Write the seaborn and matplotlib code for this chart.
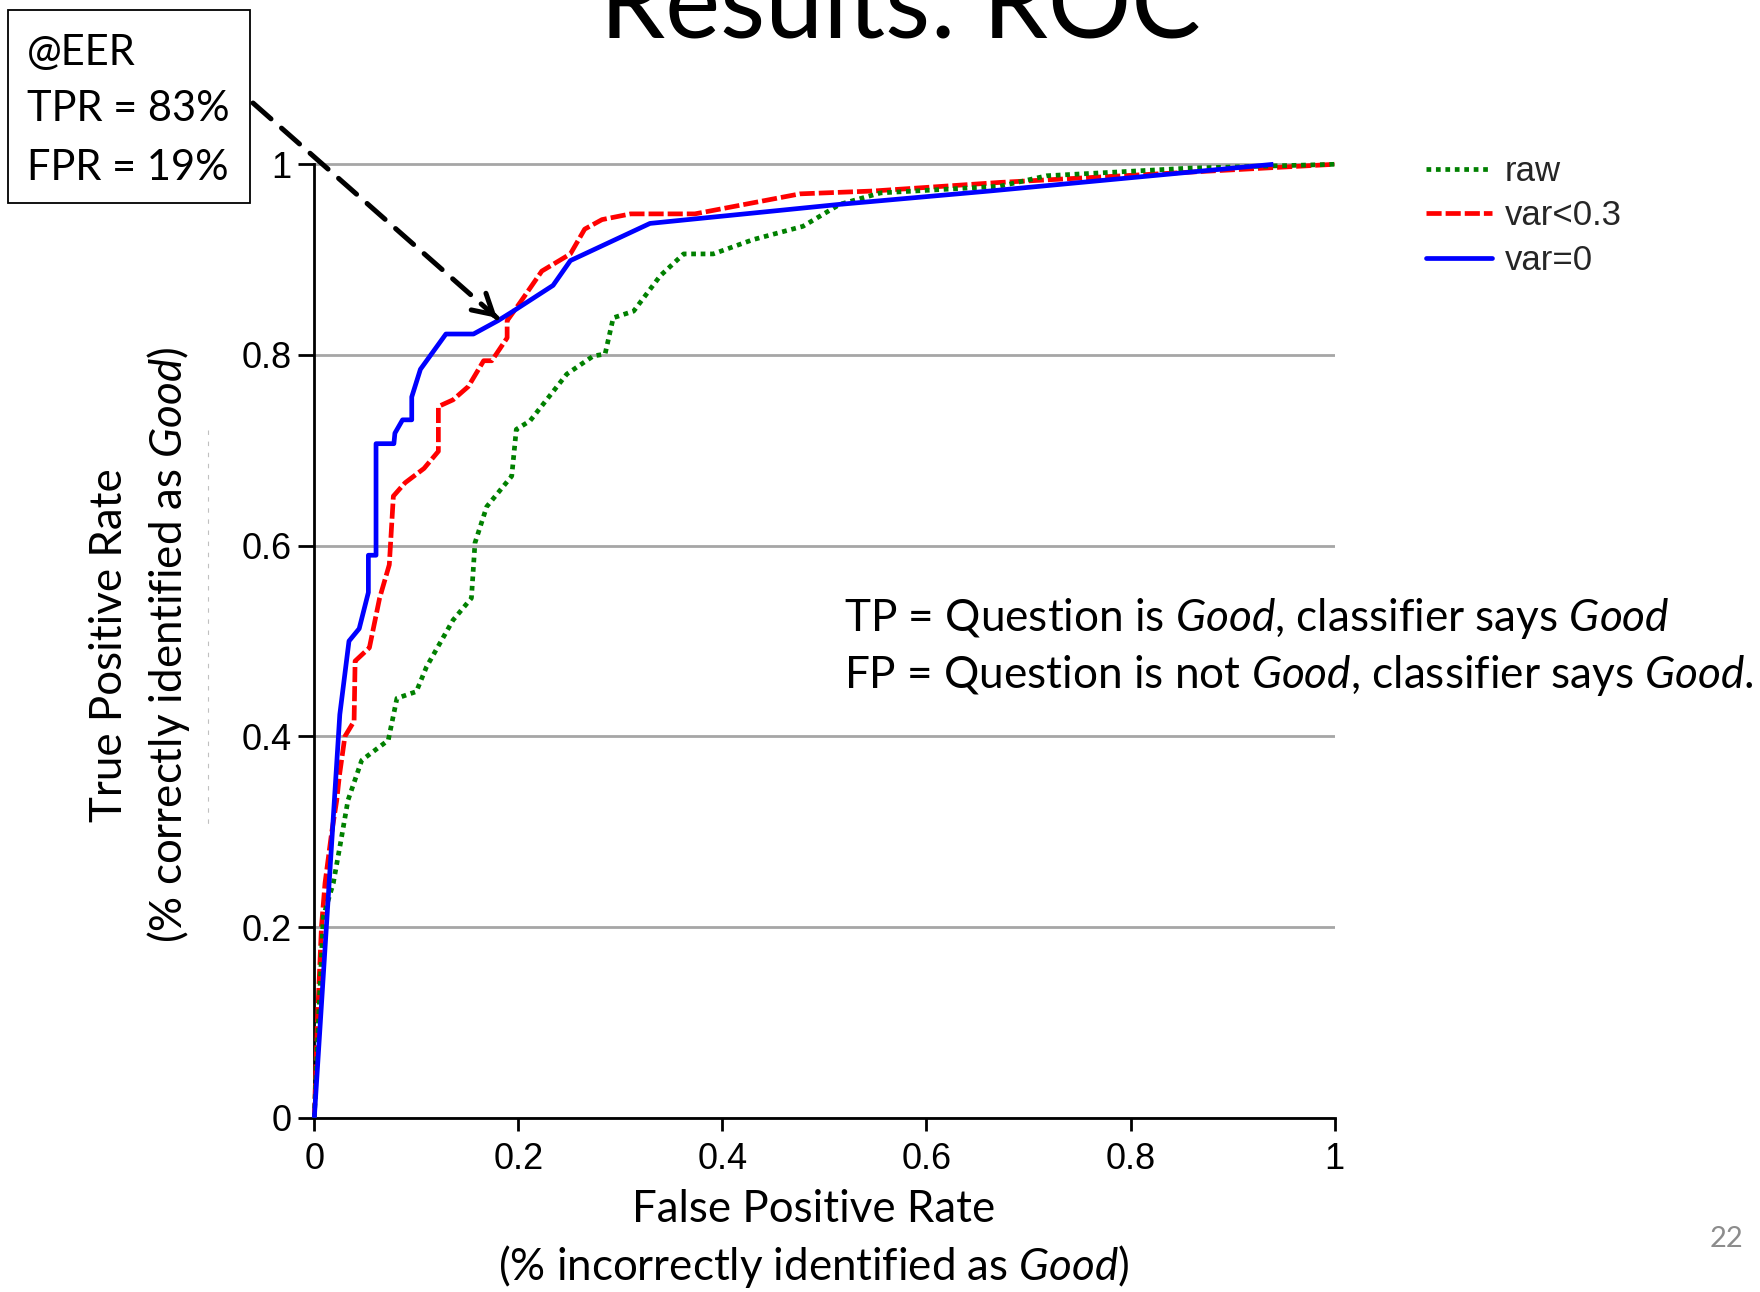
import numpy as np
import pandas as pd
import matplotlib
matplotlib.use("Agg")
import matplotlib.pyplot as plt
import seaborn as sns
from matplotlib.lines import Line2D
from matplotlib.patches import Rectangle

# ---------------- data ----------------
series_names = ["raw", "var<0.3", "var=0"]

raw_fpr = [0.0, 0.004, 0.0088, 0.0186, 0.026, 0.033, 0.0465, 0.0725, 0.081, 0.100,
           0.110, 0.136, 0.154, 0.1575, 0.169, 0.1935, 0.198, 0.2115, 0.2475, 0.2735,
           0.285, 0.293, 0.313, 0.339, 0.362, 0.391, 0.430, 0.479, 0.515, 0.555,
           0.672, 0.718, 0.858, 1.0]
raw_tpr = [0.0, 0.10, 0.211, 0.246, 0.29, 0.333, 0.375, 0.396, 0.440, 0.447,
           0.473, 0.522, 0.545, 0.603, 0.641, 0.673, 0.722, 0.731, 0.780, 0.799,
           0.801, 0.839, 0.846, 0.883, 0.906, 0.906, 0.921, 0.935, 0.958, 0.970,
           0.977, 0.988, 0.996, 1.0]

var03_fpr = [0.0, 0.003, 0.007, 0.0105, 0.017, 0.022, 0.0245, 0.030, 0.039, 0.040,
             0.054, 0.064, 0.0735, 0.0775, 0.089, 0.1075, 0.1216, 0.1216, 0.136, 0.151,
             0.166, 0.174, 0.189, 0.189, 0.2017, 0.223, 0.251, 0.265, 0.282, 0.31,
             0.373, 0.476, 0.548, 0.672, 1.0]
var03_tpr = [0.0, 0.10, 0.20, 0.246, 0.299, 0.333, 0.358, 0.400, 0.416, 0.479,
             0.493, 0.545, 0.580, 0.652, 0.666, 0.681, 0.699, 0.746, 0.753, 0.767,
             0.794, 0.794, 0.818, 0.836, 0.855, 0.888, 0.906, 0.932, 0.942, 0.948,
             0.948, 0.969, 0.972, 0.981, 1.0]

var0_fpr = [0.0, 0.025, 0.034, 0.044, 0.053, 0.053, 0.0605, 0.0605, 0.078, 0.079,
            0.0865, 0.0955, 0.0955, 0.104, 0.129, 0.156, 0.180, 0.195, 0.234, 0.251,
            0.329, 0.515, 0.662, 0.940]
var0_tpr = [0.0, 0.423, 0.500, 0.513, 0.551, 0.590, 0.590, 0.707, 0.707, 0.718,
            0.732, 0.732, 0.756, 0.785, 0.822, 0.822, 0.836, 0.846, 0.873, 0.899,
            0.938, 0.958, 0.972, 1.0]

tick_values = [0, 0.2, 0.4, 0.6, 0.8, 1]
tick_labels = ["0", "0.2", "0.4", "0.6", "0.8", "1"]

eer_lines = ["@EER", "TPR = 83%", "FPR = 19%"]
eer_arrow_tip = (0.179, 0.839)

title_text = "Results: ROC"
note_lines = ["TP = Question is $\\mathit{Good}$, classifier says $\\mathit{Good}$",
              "FP = Question is not $\\mathit{Good}$, classifier says $\\mathit{Good}$."]
ylabel_lines = ["True Positive Rate", "(% correctly identified as $\\mathit{Good}$)"]
xlabel_lines = ["False Positive Rate", "(% incorrectly identified as $\\mathit{Good}$)"]
page_number = "22"

# ---------------- style ----------------
sns.set_theme(style="white")
plt.rcParams["font.family"] = ["Liberation Sans", "DejaVu Sans"]
plt.rcParams["mathtext.fontset"] = "custom"
plt.rcParams["mathtext.rm"] = "Lato"
plt.rcParams["mathtext.it"] = "Lato:italic"
plt.rcParams["mathtext.bf"] = "Lato:bold"

W, H = 1760, 1292
fig = plt.figure(figsize=(W / 100, H / 100), dpi=100)
fig.patch.set_facecolor("white")


def fx(x):
    return x / W


def fy(y):
    return 1 - y / H


YTOP = 1.003
ax_left, ax_right, ax_bottom, ax_top1 = 314.3, 1334.6, 1117.8, 164.3
ax_h = (ax_bottom - ax_top1) * YTOP
ax = fig.add_axes([fx(ax_left), fy(ax_bottom), (ax_right - ax_left) / W, ax_h / H])

df = pd.concat([
    pd.DataFrame({"fpr": raw_fpr, "tpr": raw_tpr, "series": "raw"}),
    pd.DataFrame({"fpr": var03_fpr, "tpr": var03_tpr, "series": "var<0.3"}),
    pd.DataFrame({"fpr": var0_fpr, "tpr": var0_tpr, "series": "var=0"}),
], ignore_index=True)

LW = 3.4
styles = {
    "raw": dict(color="#008000", linestyle=(0, (1.0, 1.0)), zorder=4),
    "var<0.3": dict(color="#ff0000", linestyle=(0, (3.2, 0.85)), zorder=3),
    "var=0": dict(color="#0000ff", linestyle="-", zorder=5),
}

for name in ["var<0.3", "raw", "var=0"]:
    sub = df[df["series"] == name]
    st = styles[name]
    sns.lineplot(data=sub, x="fpr", y="tpr", ax=ax, sort=False, estimator=None,
                 errorbar=None, color=st["color"], linestyle=st["linestyle"],
                 lw=LW, zorder=st["zorder"], clip_on=False,
                 dash_capstyle="butt", solid_capstyle="butt")

ax.set_xlim(0, 1)
ax.set_ylim(0, YTOP)
ax.set_xticks(tick_values)
ax.set_xticklabels(tick_labels)
ax.set_yticks(tick_values)
ax.set_yticklabels(tick_labels)
ax.set_xlabel("")
ax.set_ylabel("")
ax.yaxis.grid(True, color="#a6a6a6", lw=2.0)
ax.xaxis.grid(False)
ax.set_axisbelow(True)
for s in ["top", "right"]:
    ax.spines[s].set_visible(False)
for s in ["left", "bottom"]:
    ax.spines[s].set_color("black")
    ax.spines[s].set_linewidth(2.0)
ax.spines["left"].set_bounds(0, 1)
ax.tick_params(axis="y", direction="out", length=11.5, width=2.0, pad=5,
               labelsize=26, colors="black", left=True)
ax.tick_params(axis="x", direction="out", length=9.5, width=2.0, pad=8,
               labelsize=26, colors="black", bottom=True)
ax.set_facecolor("white")

# legend
handles = [Line2D([], [], color=styles[n]["color"], linestyle=styles[n]["linestyle"],
                  lw=LW, dash_capstyle="butt") for n in series_names]
fig.legend(handles, series_names, loc="upper left",
           bbox_to_anchor=(fx(1426), fy(155)), frameon=False, fontsize=25,
           handlelength=1.9, handletextpad=0.37, labelspacing=0.33,
           borderpad=0, borderaxespad=0)

# EER box
fig.patches.append(Rectangle((fx(8), fy(203)), (250 - 8) / W, (203 - 10) / H,
                             transform=fig.transFigure, facecolor="white",
                             edgecolor="black", lw=1.3, zorder=10))
for line, base in zip(eer_lines, [65, 121, 180]):
    fig.text(fx(27), fy(base), line, fontsize=30, family="Lato", va="baseline",
             ha="left", color="black", zorder=11)

# dashed arrow from the box to the EER point
start = (253, 103)
ax.annotate("", xy=eer_arrow_tip, xycoords="data",
            xytext=(fx(start[0]), fy(start[1])), textcoords="figure fraction",
            arrowprops=dict(arrowstyle="-", lw=3.6, color="black",
                            linestyle=(0, (4.8, 2.8)), shrinkA=0, shrinkB=0),
            annotation_clip=False, zorder=8)
ax.annotate("", xy=eer_arrow_tip, xycoords="data",
            xytext=(-0.749 * 4, 0.662 * 4), textcoords="offset pixels",
            arrowprops=dict(arrowstyle="->,head_length=0.7,head_width=0.4",
                            lw=3.6, color="black", shrinkA=0, shrinkB=0,
                            mutation_scale=20),
            annotation_clip=False, zorder=8)

# title (cut off by the top edge)
fig.text(fx(900), fy(37), title_text, fontsize=75, family="Lato",
         ha="center", va="baseline", color="black")

# definitions text
for line, base in zip(note_lines, [631, 688]):
    fig.text(fx(844), fy(base), line, fontsize=31.8, family="Lato",
             ha="left", va="baseline", color="black")

# axis labels
LBL = 31.6
fig.text(fx(109), fy(645), ylabel_lines[0], fontsize=LBL, family="Lato",
         rotation=90, ha="center", va="center", color="black")
fig.text(fx(168), fy(645), ylabel_lines[1], fontsize=LBL, family="Lato",
         rotation=90, ha="center", va="center", color="black")
fig.text(fx(814), fy(1210), xlabel_lines[0], fontsize=LBL, family="Lato",
         ha="center", va="center", color="black")
fig.text(fx(814), fy(1267), xlabel_lines[1], fontsize=LBL, family="Lato",
         ha="center", va="center", color="black")

# faint dashed artifact next to the y label
fig.add_artist(Line2D([fx(207.6), fx(207.6)], [fy(430), fy(830)],
                      transform=fig.transFigure, color="#c0c0c0", lw=0.8,
                      linestyle=(0, (4, 6))))

# page number
fig.text(fx(1726), fy(1239), page_number, fontsize=21, family="Lato",
         ha="center", va="center", color="#8c8c8c")

fig.savefig("out.png", dpi=100, facecolor="white")
